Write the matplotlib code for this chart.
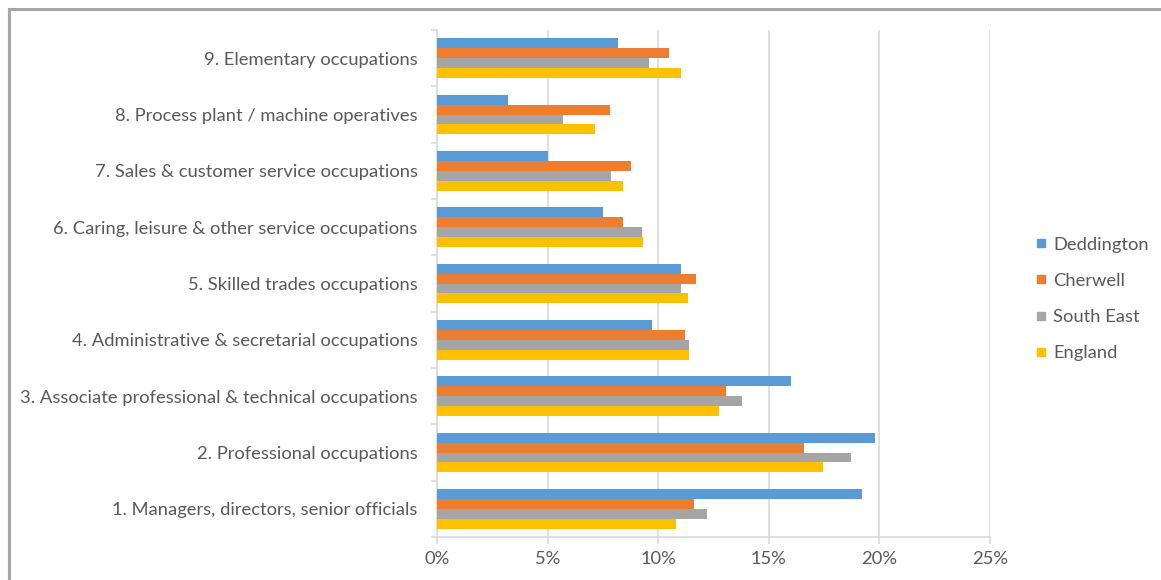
import matplotlib
matplotlib.use("Agg")
import matplotlib.pyplot as plt
from matplotlib.lines import Line2D
import numpy as np

categories = [
    "1. Managers, directors, senior officials",
    "2. Professional occupations",
    "3. Associate professional & technical occupations",
    "4. Administrative & secretarial occupations",
    "5. Skilled trades occupations",
    "6. Caring, leisure & other service occupations",
    "7. Sales & customer service occupations",
    "8. Process plant / machine operatives",
    "9. Elementary occupations",
]
series_names = ["Deddington", "Cherwell", "South East", "England"]
deddington = [19.2, 19.8, 16.0, 9.7, 11.05, 7.5, 5.0, 3.2, 8.2]
cherwell = [11.6, 16.6, 13.05, 11.2, 11.7, 8.4, 8.75, 7.8, 10.5]
south_east = [12.2, 18.7, 13.8, 11.4, 11.05, 9.25, 7.85, 5.7, 9.6]
england = [10.8, 17.45, 12.75, 11.4, 11.35, 9.3, 8.4, 7.15, 11.05]
x_ticks = [0, 5, 10, 15, 20, 25]

colors = ["#5B9BD5", "#ED7D31", "#A5A5A5", "#FFC000"]
text_color = "#595959"
grid_color = "#D9D9D9"
fs = 13.2

plt.rcParams["font.family"] = ["Lato", "DejaVu Sans"]

W, H = 1161, 580
fig = plt.figure(figsize=(W / 100, H / 100), dpi=100)
ax = fig.add_axes([437 / W, 1 - 537 / H, (990 - 437) / W, (537 - 30) / H])

y = np.arange(len(categories))
h = 0.175
offsets = [1.5 * h, 0.5 * h, -0.5 * h, -1.5 * h]
all_series = [deddington, cherwell, south_east, england]
for vals, off, col, name in zip(all_series, offsets, colors, series_names):
    ax.barh(y + off, vals, height=h, color=col, label=name, zorder=3)

ax.set_xlim(0, 25)
ax.set_ylim(-0.5, len(categories) - 0.5)
ax.set_xticks(x_ticks)
ax.set_xticklabels([f"{t}%" for t in x_ticks])
ax.set_yticks(y)
ax.set_yticklabels(categories)
ax.set_yticks(np.arange(-0.5, len(categories)), minor=True)

ax.xaxis.grid(True, color=grid_color, linewidth=1.2, zorder=0)
ax.set_axisbelow(True)

for s in ["top", "right"]:
    ax.spines[s].set_visible(False)
for s in ["left", "bottom"]:
    ax.spines[s].set_color(grid_color)
    ax.spines[s].set_linewidth(1.2)

ax.tick_params(axis="x", which="major", length=5, width=1.2, color=grid_color,
               labelsize=fs, labelcolor=text_color, pad=5)
ax.tick_params(axis="y", which="major", length=0, labelsize=fs,
               labelcolor=text_color, pad=14)
ax.tick_params(axis="y", which="minor", length=4, width=1.2, color=grid_color)

legend_handles = [
    Line2D([0], [0], marker="s", linestyle="none", markersize=6,
           markerfacecolor=c, markeredgecolor=c)
    for c in colors
]
leg = fig.legend(legend_handles, series_names, loc="center left",
                 bbox_to_anchor=(1025 / W, 1 - 299 / H), frameon=False,
                 fontsize=fs, labelspacing=1.1, handlelength=0.7,
                 handletextpad=0.35, borderpad=0)
for t in leg.get_texts():
    t.set_color(text_color)

# Frame lines along the top and left of the figure
fig.add_artist(Line2D([9 / W, 1], [1 - 9 / H, 1 - 9 / H], color="#A6A6A6",
                      linewidth=2.2, transform=fig.transFigure))
fig.add_artist(Line2D([9 / W, 9 / W], [0, 1 - 9 / H], color="#A6A6A6",
                      linewidth=2.2, transform=fig.transFigure))

fig.savefig("out.png", dpi=100, facecolor="white")
